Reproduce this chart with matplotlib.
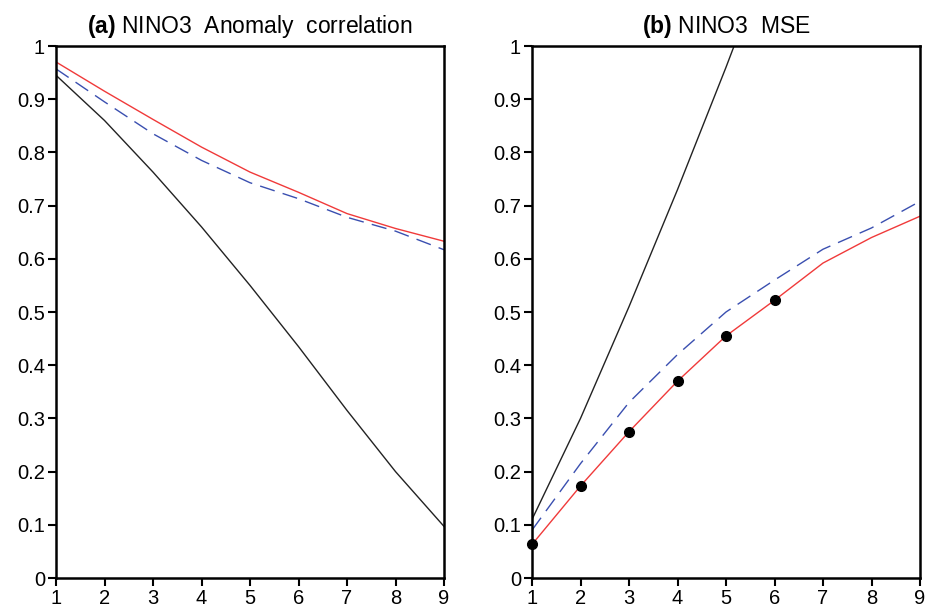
import matplotlib
matplotlib.use("Agg")
import matplotlib.pyplot as plt

plt.rcParams["font.family"] = ["Liberation Sans", "DejaVu Sans"]
plt.rcParams["mathtext.fontset"] = "custom"
plt.rcParams["mathtext.bf"] = "Liberation Sans:bold"
plt.rcParams["mathtext.rm"] = "Liberation Sans"

lead = [1, 2, 3, 4, 5, 6, 7, 8, 9]

# (a) anomaly correlation
acc_red = [0.970, 0.915, 0.862, 0.810, 0.763, 0.725, 0.685, 0.657, 0.633]
acc_blue = [0.957, 0.895, 0.835, 0.785, 0.743, 0.713, 0.678, 0.652, 0.617]
acc_black = [0.945, 0.860, 0.763, 0.660, 0.550, 0.435, 0.315, 0.200, 0.097]

# (b) MSE
mse_red = [0.063, 0.173, 0.275, 0.370, 0.455, 0.522, 0.592, 0.640, 0.680]
mse_blue = [0.090, 0.215, 0.330, 0.420, 0.500, 0.560, 0.618, 0.658, 0.708]
mse_black = [0.110, 0.300, 0.510, 0.730, 0.960, 1.200]
mse_dots = [1, 2, 3, 4, 5, 6]

yticks = [0, 0.1, 0.2, 0.3, 0.4, 0.5, 0.6, 0.7, 0.8, 0.9, 1]
ylabels = ["0", "0.1", "0.2", "0.3", "0.4", "0.5", "0.6", "0.7", "0.8", "0.9", "1"]

fig = plt.figure(figsize=(9.36, 6.08), dpi=100)
ax1 = fig.add_axes([56 / 936, 30 / 608, 388 / 936, 532 / 608])
ax2 = fig.add_axes([532 / 936, 30 / 608, 388 / 936, 532 / 608])


def style(ax, title):
    ax.set_xlim(1, 9)
    ax.set_ylim(0, 1)
    ax.set_xticks(lead)
    ax.set_xticklabels([str(v) for v in lead])
    ax.set_yticks(yticks)
    ax.set_yticklabels(ylabels)
    ax.tick_params(direction="out", length=6, width=1.5, labelsize=14.5, pad=2)
    for s in ax.spines.values():
        s.set_linewidth(1.8)
    ax.set_title(title, fontsize=16.5, pad=9)


ax1.plot(lead, acc_black, color="#222222", lw=1)
ax1.plot(lead, acc_blue, color="#3a4fb0", lw=1, dashes=(11, 6))
ax1.plot(lead, acc_red, color="#f03a3a", lw=1)
style(ax1, r"$\mathbf{(a)}$ NINO3  Anomaly  correlation")

ax2.plot(lead[:len(mse_black)], mse_black, color="#222222", lw=1)
ax2.plot(lead, mse_blue, color="#3a4fb0", lw=1, dashes=(11, 6))
ax2.plot(lead, mse_red, color="#f03a3a", lw=1)
ax2.plot(mse_dots, mse_red[:len(mse_dots)], "o", color="black", ms=7,
         clip_on=False, zorder=5)
style(ax2, r"$\mathbf{(b)}$ NINO3  MSE")

fig.savefig("out.png", dpi=100)
